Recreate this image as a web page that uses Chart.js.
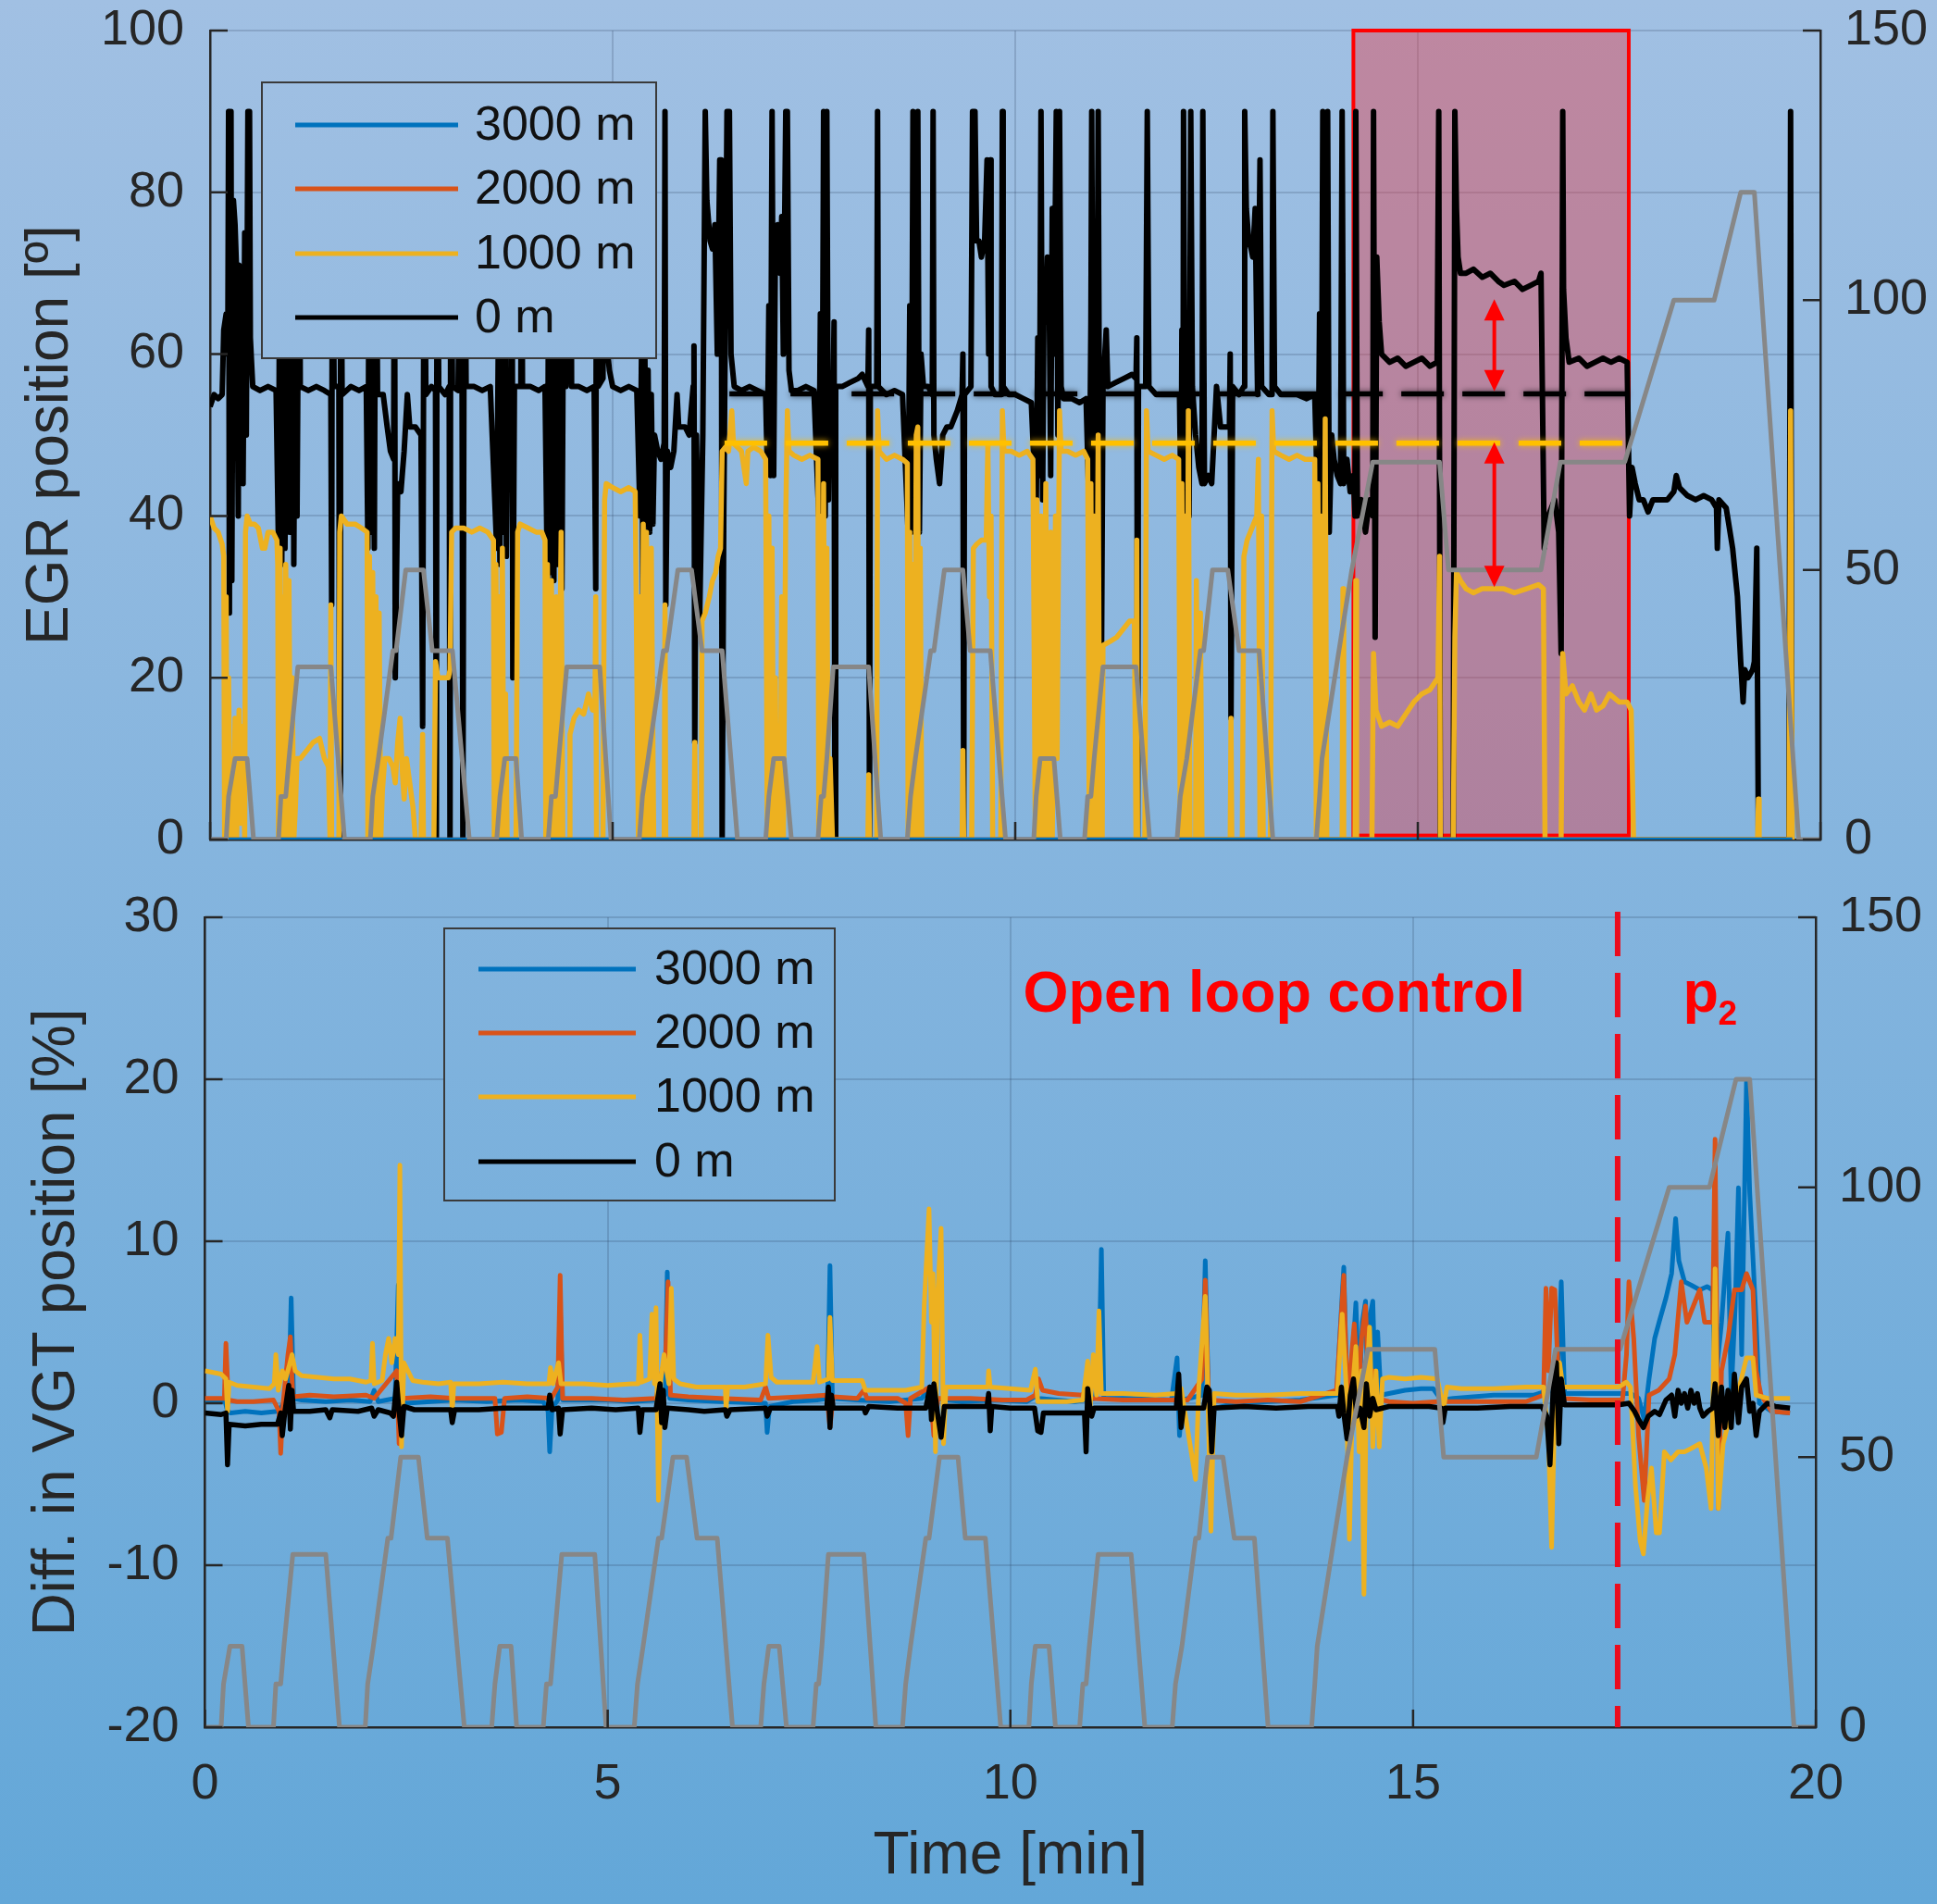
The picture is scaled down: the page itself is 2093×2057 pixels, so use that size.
<!DOCTYPE html>
<html>
<head>
<meta charset="utf-8">
<script src="https://cdn.jsdelivr.net/npm/chart.js@4.4.1/dist/chart.umd.min.js"></script>
<style>
  html, body { margin: 0; padding: 0; }
  body {
    width: 2093px; height: 2057px; position: relative; overflow: hidden;
    background: linear-gradient(to bottom, #a1c0e3 0%, #63a7d8 100%);
  }
  canvas { position: absolute; left: 0; }
  #egrChart { top: 0; }
  #vgtChart { top: 950px; }
</style>
</head>
<body>
<canvas id="egrChart" width="2093" height="950"></canvas>
<canvas id="vgtChart" width="2093" height="1107"></canvas>
<script>
/* ===============================
   Data (time in min)
=============================== */

const altitudes = ["3000 m", "2000 m", "1000 m", "0 m"];
const altColors = ["#0072BD", "#D95319", "#EDB120", "#000000"];

const timeTicks = [0, 5, 10, 15, 20];
const egrTicks = [0, 20, 40, 60, 80, 100];
const vgtTicks = [-20, -10, 0, 10, 20, 30];
const speedTicks = [0, 50, 100, 150];

// driving cycle, km/h (right axis)
const vehicleSpeed = [
  [0,0],[0.20,0],[0.23,8],[0.31,15],[0.46,15],[0.54,0],
  [0.85,0],[0.88,8],[0.94,8],[0.98,15],[1.09,32],[1.50,32],[1.67,0],
  [1.99,0],[2.02,8],[2.09,15],[2.27,35],[2.31,35],[2.43,50],[2.65,50],[2.76,35],[3.01,35],[3.22,0],
  [3.56,0],[3.60,8],[3.66,15],[3.80,15],[3.87,0],
  [4.20,0],[4.24,8],[4.29,8],[4.33,15],[4.43,32],[4.84,32],[4.98,0],
  [5.33,0],[5.37,8],[5.44,15],[5.63,35],[5.67,35],[5.81,50],[5.98,50],[6.11,35],[6.36,35],[6.55,0],
  [6.90,0],[6.94,8],[7.00,15],[7.13,15],[7.22,0],
  [7.55,0],[7.59,8],[7.62,8],[7.66,15],[7.74,32],[8.18,32],[8.33,0],
  [8.66,0],[8.70,8],[8.76,15],[8.95,35],[8.99,35],[9.12,50],[9.35,50],[9.44,35],[9.69,35],[9.88,0],
  [10.23,0],[10.26,8],[10.31,15],[10.48,15],[10.56,0],
  [10.86,0],[10.90,8],[10.94,8],[10.98,15],[11.09,32],[11.50,32],[11.67,0],
  [12.01,0],[12.05,8],[12.13,15],[12.30,35],[12.34,35],[12.45,50],[12.64,50],[12.78,35],[13.03,35],[13.20,0],
  [13.74,0],[13.78,8],[13.81,15],[14.02,35],[14.18,50],[14.44,70],[15.27,70],[15.38,50],[16.53,50],
  [16.77,70],[17.57,70],[18.18,100],[18.68,100],[19.01,120],[19.18,120],[19.73,0],[20,0]
];

// EGR position, 0 m
const egr0 = [
  [0,53.5],[0.05,55],[0.10,54.5],[0.15,55],
  [0.17,63],[0.20,65],[0.22,60],[0.23,90],[0.24,28],[0.25,78],[0.26,90],[0.27,32],[0.29,79],[0.31,76],
  [0.33,70],[0.35,40],[0.36,71],[0.39,70],[0.41,44],[0.43,75],[0.45,50],[0.47,90],[0.49,90],[0.50,62],[0.53,56],
  [0.62,55.5],[0.72,56],[0.82,55.5],
  [0.85,36],[0.87,90],[0.89,34],[0.91,60],[0.93,36],[0.97,90],[0.99,38],[1.01,62],[1.03,90],[1.04,34],
  [1.07,90],[1.08,40],[1.11,90],[1.12,56],
  [1.22,55.5],[1.32,56],[1.42,55.5],
  [1.50,55],[1.51,29],[1.52,90],[1.54,56],[1.60,56],[1.61,0],[1.62,90],[1.64,55],
  [1.75,56],[1.85,55.5],[1.94,56],
  [1.96,36],[1.98,90],[2.00,38],[2.02,62],[2.04,36],[2.06,90],[2.08,55],
  [2.15,55],[2.20,51],[2.24,48],[2.28,47],[2.29,90],[2.30,20],[2.33,44],[2.37,43],[2.41,48],[2.45,55],
  [2.48,51],[2.55,51],[2.62,50],[2.64,14],[2.66,90],[2.68,55],
  [2.75,56],[2.80,55.5],[2.81,0],[2.82,90],[2.84,56],[2.92,55],[2.97,56],[2.98,0],[2.99,90],[3.01,56],
  [3.08,55.5],[3.12,90],[3.13,56],[3.14,0],[3.16,90],[3.18,56],
  [3.28,56],[3.38,55.5],[3.48,56],
  [3.56,36],[3.58,62],[3.60,34],[3.62,90],[3.64,38],[3.66,90],[3.68,35],[3.70,56],[3.74,56],[3.75,90],
  [3.76,20],[3.78,56],[3.86,56],[3.87,90],[3.88,56],
  [3.98,56],[4.08,55.5],[4.16,56],
  [4.19,31],[4.21,90],[4.23,33],[4.25,62],[4.27,32],[4.30,90],[4.32,34],[4.35,62],[4.37,31],[4.40,90],
  [4.42,56],[4.48,90],[4.49,56],
  [4.58,56],[4.68,55.5],[4.77,56],
  [4.79,31],[4.80,90],[4.82,56],[4.88,57],[4.90,90],[4.92,62],[4.96,58],[5.00,56],
  [5.10,55.5],[5.20,56],[5.30,55.5],
  [5.34,40],[5.36,62],[5.38,20],[5.40,60],[5.42,39],[5.44,58],[5.46,38],[5.48,55],[5.50,39],[5.52,50],
  [5.56,48],[5.60,47],[5.64,49],[5.65,90],[5.66,29],[5.68,48],[5.72,46],[5.76,48],[5.80,55],[5.82,51],
  [5.90,51],[5.95,50],
  [6.00,56],[6.01,61],[6.02,12],[6.04,50],[6.08,27],[6.12,50],[6.15,90],[6.17,79],[6.21,74],[6.24,73],
  [6.27,76],[6.30,60],[6.33,84],[6.35,84],[6.36,0],[6.38,40],[6.42,90],[6.45,90],[6.47,60],[6.51,56],
  [6.60,55.5],[6.70,56],[6.80,55.5],[6.90,55],
  [6.92,46],[6.94,66],[6.96,45],[6.98,90],[7.00,45],[7.02,72],[7.05,76],[7.08,70],[7.10,77],[7.12,60],
  [7.15,90],[7.17,90],[7.19,58],[7.22,55.5],
  [7.30,55.5],[7.40,56],[7.50,55.5],
  [7.56,40],[7.58,65],[7.60,38],[7.62,90],[7.64,40],[7.66,90],[7.68,42],[7.70,56],[7.74,56],[7.75,64],
  [7.76,0],[7.77,56],
  [7.85,56],[7.95,56.5],[8.05,57],[8.10,57.5],
  [8.17,56],[8.18,63],[8.19,0],[8.20,56],[8.28,56],[8.29,90],[8.30,56],
  [8.40,55],[8.50,55.5],[8.60,55],
  [8.67,38],[8.69,66],[8.71,38],[8.73,90],[8.75,40],[8.77,60],[8.79,90],[8.81,38],[8.83,60],[8.86,56],
  [8.92,56],[8.97,55],[8.98,90],[8.99,50],[9.02,47],[9.06,44],[9.10,50],[9.15,51],[9.20,51],[9.28,53],
  [9.34,55],[9.35,60],[9.36,0],[9.37,55],[9.45,56],[9.47,90],[9.50,90],[9.52,74],[9.55,74],[9.58,72],
  [9.62,74],[9.65,84],[9.67,60],[9.69,84],[9.70,56],[9.75,55],[9.83,55],[9.84,90],[9.85,56],[9.92,55],
  [10.00,55],[10.10,54.5],[10.20,54],
  [10.26,40],[10.28,62],[10.30,45],[10.32,90],[10.34,42],[10.36,70],[10.38,64],[10.40,72],[10.42,70],
  [10.44,45],[10.46,78],[10.48,60],[10.51,90],[10.53,50],[10.55,90],[10.57,56],[10.60,54.5],
  [10.70,54.5],[10.80,54],[10.88,54.5],
  [10.92,40],[10.94,64],[10.95,90],[10.97,40],[10.99,62],[11.01,42],[11.03,90],[11.05,38],[11.07,20],
  [11.09,56],[11.13,63],[11.15,56],
  [11.25,56.5],[11.35,57],[11.45,57.5],
  [11.50,57],[11.51,62],[11.52,0],[11.53,56],[11.62,56],[11.64,90],[11.66,56],
  [11.75,55],[11.85,55],[11.95,55],[12.04,55],
  [12.06,40],[12.07,63],[12.08,16],[12.09,90],[12.11,45],[12.14,62],[12.16,40],[12.18,90],[12.20,56],
  [12.24,50],[12.28,46],[12.32,44],[12.33,90],[12.35,44],[12.40,45],[12.44,44],[12.50,56],[12.55,51],
  [12.62,51],[12.66,51],[12.67,60],[12.68,15],[12.70,56],[12.78,55],
  [12.84,56],[12.85,90],[12.87,78],[12.90,74],[12.93,73],[12.95,72],[12.98,78],[13.01,55],[13.04,84],
  [13.06,56],[13.15,55],[13.19,55],[13.20,90],[13.22,56],
  [13.30,55],[13.40,55],[13.50,55],[13.62,54.5],[13.72,55],
  [13.76,40],[13.78,65],[13.80,38],[13.82,90],[13.84,40],[13.86,60],[13.88,90],[13.90,38],[13.93,50],
  [13.96,47],[14.00,45],[14.04,44],[14.06,90],[14.08,44],[14.12,47],[14.16,43],[14.20,45],[14.22,40],
  [14.23,90],[14.25,40],[14.30,42],[14.35,38],[14.40,42],[14.44,40],[14.45,90],[14.47,25],[14.49,72],
  [14.52,64],[14.55,60],
  [14.65,59],[14.75,59.5],[14.85,58.5],[14.95,59],[15.05,59.5],[15.15,58.5],[15.24,59],
  [15.26,90],[15.28,0],[15.44,0],[15.46,90],[15.48,78],[15.50,72],[15.53,70],
  [15.60,70],[15.69,70.5],[15.80,69.5],[15.90,70],[16.00,69],[16.07,68.5],[16.20,69],[16.30,68],
  [16.40,68.5],[16.50,69],[16.53,70],
  [16.57,36],[16.62,40],[16.70,42],[16.75,38],[16.78,23],[16.80,90],[16.81,68],[16.84,62],[16.88,59],
  [17.00,59.5],[17.10,58.5],[17.20,59],[17.30,59.5],[17.40,59],[17.50,59.5],[17.60,59],
  [17.63,40],[17.66,46],[17.70,44],[17.75,42],[17.80,42],[17.86,40.5],[17.92,42],[18.00,42],[18.10,42],
  [18.18,43],[18.21,45],[18.25,43.5],[18.35,42.5],[18.45,42],[18.55,42.5],[18.65,42],[18.71,41],
  [18.72,36],[18.74,42],[18.83,41],[18.91,36],[18.97,30],[19.01,22],[19.04,17],[19.06,21],[19.10,20],
  [19.16,21],[19.18,22],[19.21,36],[19.23,0],[19.61,0],[19.63,90],[19.645,0]
];

// EGR position, 1000 m
const egr1000 = [
  [0,40],[0.05,38.5],[0.10,38],[0.15,36.5],[0.17,35],
  [0.18,0],[0.20,30],[0.21,0],[0.23,20],[0.25,0],[0.27,10],[0.29,0],[0.31,15],[0.33,0],[0.36,16],
  [0.38,2],[0.40,14],[0.43,0],[0.44,38],[0.46,40],[0.50,39],[0.55,39],[0.60,38.5],[0.65,36],[0.68,36],
  [0.72,38],[0.78,38],[0.83,37],[0.84,34],
  [0.85,0],[0.87,36],[0.88,0],[0.90,30],[0.92,0],[0.94,34],[0.96,0],[0.98,32],[1.00,0],[1.02,20],
  [1.04,0],[1.06,4],[1.08,10],[1.12,10],[1.20,11],[1.28,12],[1.36,12.5],[1.42,10],[1.47,9],
  [1.49,0],[1.50,29],[1.51,0],[1.60,0],[1.61,38],[1.63,40],[1.70,39],[1.80,39],[1.88,38.5],[1.95,38],
  [1.96,0],[1.98,35],[2.00,0],[2.02,33],[2.04,0],[2.06,30],[2.08,0],[2.10,28],[2.12,0],[2.14,6],
  [2.17,10],[2.22,10],[2.27,9],[2.30,7],[2.33,12],[2.36,15],[2.39,8],[2.41,5],[2.44,10],[2.48,7],
  [2.52,4],[2.55,0],
  [2.62,0],[2.64,13],[2.65,0],[2.78,0],[2.80,22],[2.83,20],[2.90,20],[2.96,20],[2.98,21],
  [3.00,38],[3.05,38.5],[3.15,38.5],[3.25,38],[3.35,38.5],[3.45,38],[3.52,37],
  [3.53,0],[3.55,34],[3.57,0],[3.59,30],[3.61,0],[3.63,36],[3.65,0],[3.67,18],[3.69,0],
  [3.80,0],[3.82,38],[3.85,39],[3.95,38.5],[4.05,38],[4.12,38],[4.16,37],
  [4.17,0],[4.19,34],[4.21,0],[4.24,32],[4.26,0],[4.30,30],[4.32,0],[4.36,38],[4.38,0],
  [4.46,0],[4.47,13],[4.52,15],[4.58,16],[4.64,15.5],[4.70,18],[4.75,16],[4.78,16],
  [4.79,30],[4.80,0],[4.88,0],[4.90,42],[4.92,44],[5.00,43.5],[5.10,43],[5.20,43.5],[5.28,43],
  [5.32,0],[5.34,30],[5.36,0],[5.38,39],[5.40,0],[5.42,38],[5.45,0],[5.48,36],[5.51,0],[5.62,0],
  [5.64,0],[5.65,29],[5.66,0],[6.01,0],[6.02,12],[6.03,0],
  [6.10,0],[6.11,27],[6.15,28],[6.20,30],[6.24,32],[6.28,33],[6.31,35],[6.34,36],[6.36,48],[6.40,48.5],
  [6.44,48],[6.48,53],[6.50,49],[6.55,48.5],[6.60,48],[6.66,44],[6.68,48],[6.75,48.5],[6.84,48],[6.90,47],
  [6.92,0],[6.94,40],[6.96,0],[6.98,36],[7.00,0],[7.02,20],[7.04,0],[7.08,0],[7.10,30],[7.12,0],
  [7.15,40],[7.17,53],[7.19,48],[7.25,47.5],[7.35,47],[7.45,47.5],[7.55,47],
  [7.56,0],[7.58,40],[7.60,0],[7.62,44],[7.64,0],[7.66,36],[7.68,0],[7.70,10],[7.73,0],
  [8.17,0],[8.18,8],[8.19,0],[8.28,0],[8.29,53],[8.31,48],[8.40,47],[8.50,47.5],[8.60,47],[8.66,46.5],
  [8.67,0],[8.69,38],[8.71,0],[8.73,34],[8.75,0],[8.77,50],[8.79,51],[8.80,0],[8.82,36],[8.84,0],
  [9.34,0],[9.35,11],[9.36,0],[9.46,0],[9.48,36],[9.52,36.5],[9.58,37],[9.64,37],[9.66,49],[9.68,30],
  [9.70,40],[9.72,0],[9.82,0],[9.84,53],[9.86,48],[9.95,48],[10.05,47.5],[10.15,48],[10.22,47],
  [10.25,0],[10.27,42],[10.29,0],[10.32,40],[10.34,0],[10.38,44],[10.40,0],[10.44,38],[10.46,0],
  [10.50,40],[10.52,10],[10.55,53],[10.57,48],[10.65,48],[10.75,47.5],[10.85,48],[10.90,47],
  [10.92,0],[10.94,44],[10.96,0],[10.98,40],[11.00,0],[11.03,50],[11.05,0],[11.08,0],
  [11.09,24],[11.18,24.5],[11.26,25],[11.34,26],[11.42,27],[11.48,27],
  [11.50,0],[11.51,37],[11.52,0],[11.61,0],[11.63,53],[11.65,48],[11.75,47.5],[11.85,47],[11.95,47.5],
  [12.03,47],
  [12.05,0],[12.07,44],[12.09,0],[12.11,40],[12.13,0],[12.15,53],[12.17,0],[12.24,0],[12.25,32],
  [12.27,0],[12.30,28],[12.32,0],[12.67,0],[12.68,15],[12.69,0],[12.82,0],[12.84,35],[12.88,37],
  [12.92,38],[12.96,39],[13.00,40],[13.02,47],[13.04,0],[13.06,40],[13.08,0],[13.17,0],[13.19,53],
  [13.21,48],[13.30,47.5],[13.40,47],[13.50,47.5],[13.60,47],[13.72,47],
  [13.74,0],[13.76,44],[13.78,0],[13.80,40],[13.82,0],[13.85,52],[13.87,0],[14.06,0],[14.07,31],
  [14.08,0],[14.22,0],[14.23,32],[14.24,0],[14.43,0],[14.45,23],[14.48,16],[14.55,14],[14.65,14.5],
  [14.75,14],[14.85,15.5],[14.95,17],[15.05,18],[15.15,18.5],[15.25,20],
  [15.27,35],[15.28,0],[15.44,0],[15.46,25],[15.48,33],[15.53,32],[15.60,31],[15.69,30.5],[15.80,31],
  [15.95,31],[16.07,31],[16.20,30.5],[16.35,31],[16.50,31.5],[16.56,31],
  [16.58,0],[16.78,0],[16.80,23],[16.84,18],[16.92,19],[17.00,17],[17.07,16],[17.15,18],[17.22,16],
  [17.30,16.5],[17.38,18],[17.50,17],[17.60,17],[17.65,16],
  [17.68,0],[19.22,0],[19.23,5],[19.24,0],[19.61,0],[19.63,53],[19.65,0]
];

// EGR position, 2000 m and 3000 m (closed)
const egr2000 = [[0,0],[19.65,0]];
const egr3000 = [[0,0],[19.65,0]];

// VGT position difference, %
const vgt3000 = [
  [0,0.1],[0.25,0.1],[0.28,-0.5],[0.32,-0.6],[0.50,-0.5],[0.70,-0.6],[0.90,-0.5],[0.95,-0.2],[1.04,0.3],
  [1.07,6.5],[1.10,0.3],[1.20,0.2],[1.50,0.1],[1.80,0.2],[2.05,0.1],[2.10,0.8],[2.15,0.1],[2.36,0.3],
  [2.40,7.3],[2.43,0.1],[2.50,0.0],[2.80,0.1],[3.10,0.2],[3.50,0.1],[3.90,0.2],[4.20,0.1],[4.26,-0.5],
  [4.28,-3.0],[4.31,-0.3],[4.38,0.2],[4.41,6.0],[4.44,0.2],[4.70,0.2],[5.00,0.2],[5.30,0.1],[5.60,0.2],
  [5.71,0.5],[5.74,8.1],[5.77,0.3],[6.00,0.2],[6.40,0.1],[6.96,0.0],[6.98,-1.8],[7.01,-0.2],[7.30,0.1],
  [7.60,0.2],[7.73,0.3],[7.76,8.5],[7.79,0.3],[8.10,0.2],[8.50,0.1],[8.90,0.3],[9.00,1.0],[9.05,0.3],
  [9.40,0.1],[9.80,0.2],[10.20,0.1],[10.30,0.4],[10.35,0.3],[10.80,0.1],[11.05,0.3],[11.10,2.0],
  [11.13,9.5],[11.16,0.3],[11.50,0.3],[12.00,0.2],[12.07,2.8],[12.10,-2.0],[12.13,0.2],[12.38,0.5],
  [12.42,8.8],[12.46,0.2],[12.55,-0.3],[12.80,0.0],[13.20,0.1],[13.60,0.2],[14.05,0.5],[14.14,8.4],
  [14.18,0.2],[14.24,2.0],[14.29,6.2],[14.33,0.5],[14.37,5.0],[14.41,6.3],[14.44,0.0],[14.47,5.5],
  [14.50,6.3],[14.53,1.0],[14.56,4.4],[14.60,0.5],[14.70,0.6],[14.90,0.8],[15.10,0.9],[15.25,0.9],
  [15.35,0.2],[15.50,0.3],[16.00,0.5],[16.50,0.5],[16.70,0.8],[16.80,2.0],[16.84,7.5],[16.88,0.6],
  [17.20,0.6],[17.55,0.6],[17.70,0.6],[17.80,0.3],[17.87,-1.0],[17.93,1.5],[18.00,4.0],[18.06,5.1],
  [18.14,6.5],[18.21,8.0],[18.26,11.4],[18.30,8.8],[18.37,7.5],[18.45,7.3],[18.56,7.0],[18.65,7.2],
  [18.72,7.0],[18.75,1.0],[18.83,5.0],[18.91,10.5],[18.95,0.5],[19.00,6.0],[19.04,13.3],[19.08,3.0],
  [19.14,19.9],[19.18,13.0],[19.26,5.0],[19.30,0.0],[19.45,-0.5],[19.68,-0.6]
];

const vgt2000 = [
  [0,0.3],[0.24,0.3],[0.26,3.7],[0.29,0.2],[0.40,0.1],[0.60,0.1],[0.85,0.2],[0.92,-0.5],[0.94,-3.1],
  [0.97,0.0],[1.03,3.0],[1.06,4.1],[1.09,0.4],[1.30,0.5],[1.60,0.4],[2.00,0.5],[2.10,0.3],[2.38,2.0],
  [2.41,-2.5],[2.45,0.3],[2.80,0.4],[3.10,0.3],[3.40,0.3],[3.60,0.3],[3.63,-1.9],[3.68,-1.8],[3.72,0.3],
  [4.00,0.4],[4.30,0.3],[4.38,1.0],[4.41,7.9],[4.44,0.3],[4.80,0.3],[5.20,0.2],[5.60,0.3],[5.72,3.0],
  [5.75,7.5],[5.78,0.5],[6.00,0.4],[6.40,0.3],[6.90,0.2],[6.96,1.0],[7.00,0.3],[7.40,0.4],[7.72,0.5],
  [7.76,-1.5],[7.80,0.4],[8.10,0.3],[8.18,0.8],[8.22,0.3],[8.60,0.3],[8.70,0.0],[8.73,-2.0],[8.76,0.3],
  [9.00,1.0],[9.05,-2.0],[9.10,0.3],[9.50,0.3],[9.90,0.2],[10.20,0.2],[10.31,0.5],[10.35,1.5],
  [10.40,0.8],[10.60,0.6],[10.90,0.5],[10.96,1.2],[11.00,0.3],[11.40,0.2],[11.80,0.2],[12.20,0.2],
  [12.38,1.5],[12.42,7.6],[12.46,0.2],[12.80,0.1],[13.20,0.2],[13.60,0.1],[14.05,0.8],[14.14,7.9],
  [14.18,0.5],[14.22,2.0],[14.27,4.9],[14.32,0.5],[14.36,4.0],[14.41,6.0],[14.45,0.5],[14.50,2.0],
  [14.55,0.3],[14.70,0.1],[15.00,0.0],[15.30,0.1],[15.60,0.1],[16.00,0.1],[16.40,0.1],[16.62,0.5],
  [16.65,7.1],[16.68,2.0],[16.72,7.1],[16.76,7.0],[16.80,2.0],[16.84,0.3],[17.20,0.2],[17.60,0.2],
  [17.65,3.0],[17.68,7.5],[17.74,4.0],[17.80,-2.0],[17.87,-6.0],[17.93,0.5],[18.05,0.8],[18.18,1.5],
  [18.25,3.0],[18.33,7.5],[18.40,5.0],[18.48,6.0],[18.56,7.0],[18.62,5.0],[18.68,5.0],[18.72,5.0],
  [18.75,16.3],[18.79,-6.5],[18.83,2.0],[18.91,4.0],[18.99,7.0],[19.08,7.0],[19.14,8.0],[19.22,7.0],
  [19.26,2.0],[19.32,0.5],[19.45,-0.5],[19.68,-0.6]
];

const vgt1000 = [
  [0,2.0],[0.10,1.9],[0.20,1.8],[0.26,1.5],[0.28,-0.5],[0.30,1.3],[0.40,1.1],[0.60,1.0],[0.80,0.9],
  [0.86,1.2],[0.88,3.0],[0.91,0.8],[0.96,2.0],[1.00,1.5],[1.04,2.2],[1.08,3.0],[1.12,2.0],[1.20,1.7],
  [1.40,1.6],[1.60,1.5],[1.80,1.5],[2.00,1.3],[2.06,1.4],[2.08,3.7],[2.10,1.2],[2.20,1.4],[2.24,3.0],
  [2.28,4.0],[2.32,2.5],[2.36,4.0],[2.40,3.0],[2.42,14.7],[2.44,-2.7],[2.47,2.5],[2.52,2.0],[2.58,1.4],
  [2.70,1.3],[2.90,1.2],[3.05,1.3],[3.07,-0.5],[3.09,1.2],[3.40,1.2],[3.70,1.3],[4.00,1.2],[4.27,1.2],
  [4.29,2.2],[4.32,1.2],[4.39,2.5],[4.42,1.2],[4.70,1.2],[5.00,1.1],[5.30,1.2],[5.38,1.2],[5.40,4.2],
  [5.42,1.3],[5.52,1.5],[5.55,5.5],[5.58,1.2],[5.60,5.9],[5.63,-6.0],[5.66,1.5],[5.70,3.0],[5.76,1.2],
  [5.79,7.1],[5.82,1.5],[5.90,1.2],[6.10,1.0],[6.30,1.0],[6.46,1.0],[6.47,-0.4],[6.49,1.0],[6.70,1.0],
  [6.96,1.2],[6.99,4.2],[7.03,1.6],[7.10,1.3],[7.30,1.3],[7.55,1.3],[7.60,3.5],[7.63,1.3],[7.74,1.5],
  [7.76,5.3],[7.79,1.4],[8.00,1.4],[8.16,1.4],[8.20,0.8],[8.40,0.8],[8.70,0.8],[8.90,1.0],[8.93,6.0],
  [8.99,12.0],[9.02,5.0],[9.04,8.0],[9.07,-3.0],[9.10,7.0],[9.14,10.8],[9.17,-2.5],[9.20,1.0],[9.40,1.0],
  [9.72,1.0],[9.73,2.0],[9.75,1.0],[10.00,0.9],[10.25,0.8],[10.31,2.1],[10.34,0.1],[10.50,0.1],
  [10.70,0.1],[10.90,0.2],[10.96,2.6],[10.99,-0.3],[11.03,3.0],[11.07,0.5],[11.10,5.7],[11.13,0.6],
  [11.40,0.6],[11.80,0.5],[12.05,0.6],[12.12,0.9],[12.30,-4.7],[12.34,1.0],[12.42,6.6],[12.45,1.0],
  [12.49,-7.9],[12.53,0.6],[12.80,0.5],[13.20,0.5],[13.60,0.6],[14.06,0.6],[14.12,5.5],[14.17,1.0],
  [14.21,-8.4],[14.25,1.0],[14.29,3.5],[14.33,-3.0],[14.36,2.0],[14.39,-11.8],[14.42,1.0],[14.46,4.7],
  [14.50,-2.7],[14.54,2.0],[14.58,-2.7],[14.62,1.5],[14.70,1.6],[14.90,1.5],[15.10,1.6],[15.30,1.5],
  [15.38,-0.3],[15.42,1.0],[15.60,0.9],[16.00,0.9],[16.40,1.0],[16.62,1.0],[16.68,-2.0],[16.72,-8.9],
  [16.76,0.0],[16.82,2.5],[16.86,1.0],[17.20,1.0],[17.55,1.0],[17.65,1.3],[17.70,1.0],[17.76,-5.0],
  [17.82,-8.5],[17.86,-9.3],[17.91,-6.0],[17.96,-4.0],[18.02,-8.0],[18.06,-8.0],[18.12,-3.0],
  [18.20,-3.5],[18.29,-3.0],[18.37,-3.0],[18.45,-2.8],[18.56,-2.5],[18.64,-4.0],[18.70,-6.5],
  [18.75,8.3],[18.79,-6.5],[18.85,-2.5],[18.95,-0.5],[19.05,1.0],[19.14,2.8],[19.22,2.8],[19.26,0.5],
  [19.40,0.3],[19.68,0.3]
];

const vgt0 = [
  [0,-0.6],[0.20,-0.7],[0.26,-0.6],[0.28,-3.8],[0.30,-1.3],[0.50,-1.4],[0.70,-1.3],[0.90,-1.3],
  [0.94,-0.6],[0.96,-2.0],[0.99,-0.6],[1.04,1.1],[1.06,-1.6],[1.08,0.8],[1.10,-0.5],[1.30,-0.5],
  [1.50,-0.4],[1.55,-0.9],[1.58,-0.4],[1.90,-0.5],[2.07,-0.3],[2.10,-0.8],[2.15,-0.4],[2.30,-0.6],
  [2.34,-0.8],[2.38,1.3],[2.41,-0.5],[2.44,-2.0],[2.47,-0.2],[2.60,-0.4],[2.90,-0.4],[3.05,-0.4],
  [3.07,-1.2],[3.10,-0.4],[3.40,-0.4],[3.70,-0.3],[4.00,-0.3],[4.26,-0.3],[4.28,0.5],[4.31,-0.4],
  [4.39,-0.3],[4.41,-1.9],[4.44,-0.4],[4.80,-0.3],[5.10,-0.4],[5.38,-0.3],[5.40,-1.8],[5.43,-0.4],
  [5.60,-0.4],[5.65,1.2],[5.67,-1.2],[5.69,0.8],[5.71,-1.5],[5.74,-0.3],[6.00,-0.4],[6.20,-0.5],
  [6.46,-0.4],[6.48,-0.8],[6.52,-0.4],[6.96,-0.3],[6.98,-0.8],[7.02,-0.3],[7.40,-0.3],[7.72,-0.3],
  [7.74,1.0],[7.76,-1.5],[7.78,0.5],[7.80,-0.3],[8.18,-0.3],[8.20,-0.6],[8.24,-0.2],[8.60,-0.3],
  [8.95,-0.3],[9.00,1.0],[9.02,-1.0],[9.05,1.2],[9.10,-0.8],[9.14,-2.1],[9.18,-0.2],[9.50,-0.2],
  [9.71,-0.2],[9.73,0.6],[9.75,-1.7],[9.77,-0.2],[10.00,-0.3],[10.30,-0.3],[10.34,-1.7],[10.38,-1.8],
  [10.41,-0.6],[10.60,-0.6],[10.80,-0.6],[10.92,-0.6],[10.94,-3.0],[10.96,0.9],[10.99,-0.4],
  [11.01,-0.8],[11.04,-0.3],[11.40,-0.3],[11.80,-0.3],[12.06,-0.3],[12.09,1.8],[12.12,-1.5],
  [12.15,-0.3],[12.40,-0.3],[12.44,1.0],[12.47,0.8],[12.50,-3.0],[12.53,-0.3],[12.90,-0.2],
  [13.30,-0.3],[13.70,-0.2],[14.06,-0.2],[14.08,-0.8],[14.11,1.0],[14.14,-0.6],[14.18,-2.2],
  [14.22,0.5],[14.26,1.5],[14.30,-0.8],[14.34,-0.3],[14.39,-1.5],[14.42,1.2],[14.46,-0.8],[14.50,0.3],
  [14.54,-0.4],[14.70,-0.2],[15.00,-0.2],[15.20,-0.2],[15.35,-0.3],[15.37,-1.2],[15.40,-0.3],
  [15.80,-0.3],[16.20,-0.2],[16.60,-0.2],[16.66,-0.8],[16.70,-3.8],[16.74,1.0],[16.78,2.5],
  [16.81,-2.5],[16.84,1.5],[16.88,-0.1],[17.20,-0.1],[17.55,-0.1],[17.68,0.0],[17.75,-0.5],
  [17.80,-1.0],[17.86,-1.5],[17.92,-0.8],[18.00,-0.5],[18.06,-0.7],[18.14,0.2],[18.21,0.5],
  [18.25,-0.8],[18.29,0.8],[18.33,0.0],[18.37,0.6],[18.41,-0.3],[18.45,0.8],[18.49,0.0],[18.53,0.6],
  [18.56,-0.3],[18.60,-0.8],[18.66,-0.5],[18.72,-0.3],[18.75,1.2],[18.79,-2.0],[18.83,1.0],
  [18.87,-1.5],[18.91,0.8],[18.95,-1.5],[18.99,1.8],[19.04,-1.2],[19.08,1.0],[19.14,1.5],[19.18,-0.5],
  [19.22,0.0],[19.26,-2.0],[19.30,-0.5],[19.40,0.0],[19.50,-0.2],[19.68,-0.3]
];

// annotations
const openLoopSpan = [14.2, 17.62];          // highlighted window, min
const refEgr0 = { level: 55.1, from: 6.45, to: 17.62 };
const refEgr1000 = { level: 49, from: 6.39, to: 17.62 };
const arrowTime = 15.95;
const arrowUpper = [66.8, 55.4];
const arrowLower = [49.1, 31.2];
const p2SwitchTime = 17.54;

/* ===============================
   Style helpers
=============================== */

const FONT = "'Liberation Sans', Arial, Helvetica, sans-serif";
const INK = "#262626";
const GRID = "rgba(40,60,90,0.2)";
const PAGE_H = 2057;
const BG_TOP = "#a1c0e3";
const BG_BOTTOM = "#63a7d8";

function xy(pairs) {
    return pairs.map(p => ({ x: p[0], y: p[1] }));
}

function trace(label, color, pairs, width, order, axis) {
    return {
        label: label,
        data: xy(pairs),
        borderColor: color,
        borderWidth: width,
        pointRadius: 0,
        tension: 0,
        borderJoinStyle: "round",
        fill: false,
        order: order,
        yAxisID: axis || "y"
    };
}

function fixedTicks(values) {
    return s => { s.ticks = values.map(v => ({ value: v })); };
}

// pin axis box size and drop the label overhang Chart.js adds to the plot area
function pinSize(key, size) {
    return s => {
        s[key] = size;
        s.paddingTop = 0;
        s.paddingBottom = 0;
        s.paddingLeft = 0;
        s.paddingRight = 0;
    };
}

function timeAxis(showLabels, height) {
    return {
        type: "linear", min: 0, max: 20,
        afterBuildTicks: fixedTicks(timeTicks),
        afterFit: pinSize("height", height),
        grid: { color: GRID, lineWidth: 2, drawTicks: false },
        border: { display: true, color: INK, width: 2.5 },
        ticks: { display: showLabels, padding: 30, color: INK, font: { family: FONT, size: 54 } },
        title: {
            display: showLabels, text: "Time [min]", color: INK,
            font: { family: FONT, size: 64 }, padding: { top: 0, bottom: 12 }
        }
    };
}

function leftAxis(min, max, values, text, width, titlePad) {
    return {
        type: "linear", position: "left", min: min, max: max,
        afterBuildTicks: fixedTicks(values),
        afterFit: pinSize("width", width),
        grid: { color: GRID, lineWidth: 2, drawTicks: false },
        border: { display: true, color: INK, width: 2.5 },
        ticks: { padding: 28, color: INK, font: { family: FONT, size: 54 } },
        title: {
            display: true, text: text, color: INK,
            font: { family: FONT, size: 64 }, padding: { top: titlePad, bottom: 0 }
        }
    };
}

function rightAxis(width, pad) {
    return {
        type: "linear", position: "right", min: 0, max: 150,
        afterBuildTicks: fixedTicks(speedTicks),
        afterFit: pinSize("width", width),
        grid: { drawOnChartArea: false, drawTicks: false },
        border: { display: true, color: INK, width: 2.5 },
        ticks: { padding: pad, color: INK, font: { family: FONT, size: 54 } }
    };
}

/* ===============================
   Plugins
=============================== */

const innerTicks = {
    id: "innerTicks",
    afterDatasetsDraw(chart) {
        const { ctx, chartArea: a, scales } = chart;
        const len = 19;
        ctx.save();
        ctx.strokeStyle = INK;
        ctx.lineWidth = 2.5;
        ctx.beginPath();
        scales.x.ticks.forEach(t => {
            const px = scales.x.getPixelForValue(t.value);
            ctx.moveTo(px, a.bottom);
            ctx.lineTo(px, a.bottom - len);
        });
        scales.y.ticks.forEach(t => {
            const py = scales.y.getPixelForValue(t.value);
            ctx.moveTo(a.left, py);
            ctx.lineTo(a.left + len, py);
        });
        scales.y1.ticks.forEach(t => {
            const py = scales.y1.getPixelForValue(t.value);
            ctx.moveTo(a.right, py);
            ctx.lineTo(a.right - len, py);
        });
        ctx.stroke();
        ctx.restore();
    }
};

const boxLegend = {
    id: "boxLegend",
    afterDraw(chart, args, o) {
        const ctx = chart.ctx;
        const [x1, y1, x2, y2] = o.box;
        ctx.save();
        const g = ctx.createLinearGradient(0, -o.offset, 0, PAGE_H - o.offset);
        g.addColorStop(0, BG_TOP);
        g.addColorStop(1, BG_BOTTOM);
        ctx.fillStyle = g;
        ctx.fillRect(x1, y1, x2 - x1, y2 - y1);
        ctx.strokeStyle = "#3a3a3a";
        ctx.lineWidth = 2;
        ctx.strokeRect(x1, y1, x2 - x1, y2 - y1);
        ctx.font = "52px " + FONT;
        ctx.textBaseline = "middle";
        ctx.textAlign = "left";
        altitudes.forEach((name, i) => {
            const ry = o.rows[i];
            ctx.strokeStyle = altColors[i];
            ctx.lineWidth = 5;
            ctx.beginPath();
            ctx.moveTo(o.line[0], ry);
            ctx.lineTo(o.line[1], ry);
            ctx.stroke();
            ctx.fillStyle = "#111";
            ctx.fillText(name, o.textX, ry + 2);
        });
        ctx.restore();
    }
};

function drawArrow(ctx, x, yTop, yBottom) {
    const head = 23, half = 11;
    ctx.beginPath();
    ctx.moveTo(x, yTop + head - 2);
    ctx.lineTo(x, yBottom - head + 2);
    ctx.stroke();
    ctx.beginPath();
    ctx.moveTo(x, yTop);
    ctx.lineTo(x - half, yTop + head);
    ctx.lineTo(x + half, yTop + head);
    ctx.closePath();
    ctx.fill();
    ctx.beginPath();
    ctx.moveTo(x, yBottom);
    ctx.lineTo(x - half, yBottom - head);
    ctx.lineTo(x + half, yBottom - head);
    ctx.closePath();
    ctx.fill();
}

const egrMarks = {
    id: "egrMarks",
    beforeDatasetsDraw(chart) {
        const { ctx, scales: { x, y } } = chart;
        const l = x.getPixelForValue(openLoopSpan[0]);
        const r = x.getPixelForValue(openLoopSpan[1]);
        const t = y.getPixelForValue(100);
        const b = y.getPixelForValue(0.5);
        ctx.save();
        ctx.fillStyle = "rgba(235,53,62,0.4)";
        ctx.fillRect(l, t, r - l, b - t);
        ctx.strokeStyle = "#ff0000";
        ctx.lineWidth = 4;
        ctx.strokeRect(l, t, r - l, b - t);
        ctx.restore();
    },
    afterDatasetsDraw(chart) {
        const { ctx, scales: { x, y } } = chart;
        ctx.save();
        ctx.lineWidth = 5.5;
        ctx.setLineDash([46, 20]);
        [[refEgr0, "#000000", "rgba(0,0,0,0.6)"], [refEgr1000, "#ffc000", "rgba(255,190,0,0.8)"]].forEach(([ref, color, glow]) => {
            const py = y.getPixelForValue(ref.level);
            ctx.strokeStyle = color;
            ctx.shadowColor = glow;
            ctx.shadowBlur = 6;
            ctx.beginPath();
            ctx.moveTo(x.getPixelForValue(ref.from), py);
            ctx.lineTo(x.getPixelForValue(ref.to), py);
            ctx.stroke();
        });
        ctx.shadowBlur = 0;
        ctx.setLineDash([]);
        ctx.strokeStyle = "#ff0000";
        ctx.fillStyle = "#ff0000";
        ctx.lineWidth = 4;
        const ax = x.getPixelForValue(arrowTime);
        drawArrow(ctx, ax, y.getPixelForValue(arrowUpper[0]), y.getPixelForValue(arrowUpper[1]));
        drawArrow(ctx, ax, y.getPixelForValue(arrowLower[0]), y.getPixelForValue(arrowLower[1]));
        ctx.restore();
    }
};

const vgtMarks = {
    id: "vgtMarks",
    afterDatasetsDraw(chart) {
        const { ctx, chartArea: a, scales: { x } } = chart;
        const px = x.getPixelForValue(p2SwitchTime);
        ctx.save();
        ctx.strokeStyle = "rgb(235,12,30)";
        ctx.lineWidth = 6;
        ctx.setLineDash([48, 18]);
        ctx.beginPath();
        ctx.moveTo(px, a.top - 6);
        ctx.lineTo(px, a.bottom);
        ctx.stroke();
        ctx.setLineDash([]);
        ctx.fillStyle = "#ff0000";
        ctx.textBaseline = "alphabetic";
        ctx.textAlign = "left";
        ctx.font = "bold 63px " + FONT;
        ctx.fillText("Open loop control", a.left + 884, a.top + 102);
        ctx.fillText("p", a.left + 1597, a.top + 102);
        ctx.font = "bold 37px " + FONT;
        ctx.fillText("2", a.left + 1635, a.top + 116);
        ctx.restore();
    }
};

/* ===============================
   EGR position chart
=============================== */

const egrCtx = document.getElementById("egrChart");

if (egrCtx) {

    new Chart(egrCtx, {

        type: "line",

        data: {
            datasets: [
                trace("speed", "#878787", vehicleSpeed, 5, 1, "y1"),
                trace(altitudes[0], altColors[0], egr3000, 4.5, 2),
                trace(altitudes[1], altColors[1], egr2000, 4.5, 3),
                trace(altitudes[2], altColors[2], egr1000, 5.5, 4),
                trace(altitudes[3], altColors[3], egr0, 6, 5)
            ]
        },

        options: {
            responsive: false,
            animation: false,
            layout: { padding: { top: 33, left: 0, right: 0, bottom: 0 } },
            plugins: {
                legend: { display: false },
                tooltip: { enabled: false },
                boxLegend: { box: [283, 89, 709, 387], rows: [135, 204, 274, 343], line: [319, 495], textX: 513, offset: 0 }
            },
            scales: {
                x: timeAxis(false, 43),
                y: leftAxis(0, 100, egrTicks, "EGR position [º]", 227, 17),
                y1: rightAxis(126, 26)
            }
        },

        plugins: [egrMarks, innerTicks, boxLegend]

    });

}

/* ===============================
   VGT position difference chart
=============================== */

const vgtCtx = document.getElementById("vgtChart");

if (vgtCtx) {

    new Chart(vgtCtx, {

        type: "line",

        data: {
            datasets: [
                trace("speed", "#878787", vehicleSpeed, 5, 1, "y1"),
                trace(altitudes[3], altColors[3], vgt0, 5.5, 2),
                trace(altitudes[2], altColors[2], vgt1000, 5, 3),
                trace(altitudes[1], altColors[1], vgt2000, 5, 4),
                trace(altitudes[0], altColors[0], vgt3000, 5, 5)
            ]
        },

        options: {
            responsive: false,
            animation: false,
            layout: { padding: { top: 41, left: 0, right: 0, bottom: 0 } },
            plugins: {
                legend: { display: false },
                tooltip: { enabled: false },
                boxLegend: { box: [480, 53, 902, 347], rows: [97, 166, 235, 305], line: [517, 687], textX: 707, offset: 950 }
            },
            scales: {
                x: timeAxis(true, 191),
                y: leftAxis(-20, 30, vgtTicks, "Diff. in VGT position [%]", 221.5, 24),
                y1: rightAxis(131, 25)
            }
        },

        plugins: [vgtMarks, innerTicks, boxLegend]

    });

}
</script>
</body>
</html>
